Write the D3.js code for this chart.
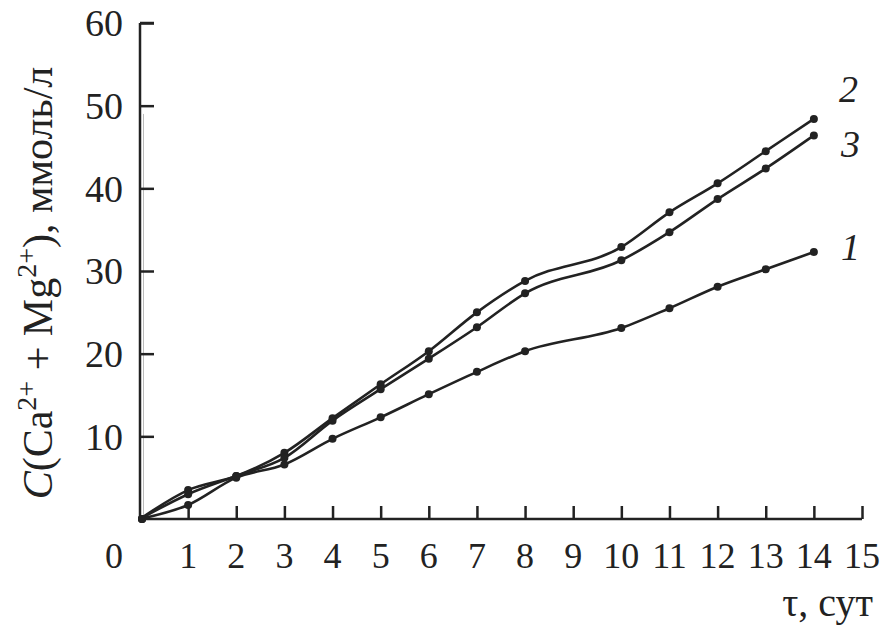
<!DOCTYPE html>
<html><head><meta charset="utf-8">
<script src="https://cdn.jsdelivr.net/npm/d3@7"></script>
<style>body{margin:0;background:#fff}svg{display:block}</style>
</head><body>
<svg id="c" width="881" height="626"></svg>
<script>
const days = [0, 1, 2, 3, 4, 5, 6, 7, 8, 10, 11, 12, 13, 14];
const series1 = [0, 1.7, 5.0, 6.6, 9.7, 12.3, 15.1, 17.8, 20.3, 23.1, 25.5, 28.1, 30.2, 32.3];
const series2 = [0, 3.5, 5.2, 8.0, 12.2, 16.3, 20.3, 25.0, 28.8, 32.9, 37.1, 40.6, 44.5, 48.4];
const series3 = [0, 3.0, 5.2, 7.4, 11.9, 15.7, 19.4, 23.2, 27.3, 31.3, 34.7, 38.7, 42.4, 46.4];
const seriesLabels = ["1", "2", "3"];
const xTicks = [1,2,3,4,5,6,7,8,9,10,11,12,13,14,15];
const yTicks = [10,20,30,40,50,60];

const svg = d3.select("#c");
const x = d3.scaleLinear().domain([0, 15]).range([140, 862]);
const y = d3.scaleLinear().domain([0, 60]).range([519, 23]);
const ink = "#222";
const serif = "'Liberation Serif', 'DejaVu Serif', serif";

// decorative thin line next to y axis
svg.append("line").attr("x1",143.5).attr("x2",143.5).attr("y1",y(49)).attr("y2",y(0))
  .attr("stroke","#bbb").attr("stroke-width",1);

// axes
const yAxis = svg.append("g").attr("transform","translate(140,0)")
  .call(d3.axisRight(y).tickValues(yTicks).tickSize(14).tickFormat(""));
const xAxis = svg.append("g").attr("transform","translate(0,519)")
  .call(d3.axisTop(x).tickValues(xTicks).tickSize(13).tickFormat(""));
[yAxis, xAxis].forEach(g => {
  g.select(".domain").attr("stroke", ink).attr("stroke-width", 2.5);
  g.selectAll(".tick line").attr("stroke", ink).attr("stroke-width", 2.5);
});
yAxis.select(".domain").attr("d", `M0,${y(60)}V${y(0)}`);
yAxis.append("line").attr("x1",0).attr("x2",14).attr("y1",y(60)).attr("y2",y(60))
  .attr("stroke",ink).attr("stroke-width",2.5);
xAxis.select(".domain").attr("d", `M${x(0)},0H${x(15)}`);

// tick labels
svg.append("g").selectAll("text").data(yTicks).join("text")
  .attr("x", 123).attr("y", d => y(d)).attr("dy","0.35em")
  .attr("text-anchor","end").attr("font-family",serif).attr("font-size",38).attr("fill",ink)
  .text(d => d);
svg.append("g").selectAll("text").data(xTicks).join("text")
  .attr("x", d => x(d)).attr("y", 568)
  .attr("text-anchor","middle").attr("font-family",serif).attr("font-size",36).attr("fill",ink)
  .text(d => d);
svg.append("text").attr("x",114).attr("y",568).attr("text-anchor","middle")
  .attr("font-family",serif).attr("font-size",36).attr("fill",ink).text("0");

// axis titles
svg.append("text").attr("x",873).attr("y",616).attr("text-anchor","end")
  .attr("font-family",serif).attr("font-size",40).attr("fill",ink).text("τ, сут");

const yt = svg.append("text").attr("transform","translate(52,283) rotate(-90)")
  .attr("text-anchor","middle").attr("font-family",serif).attr("font-size",42).attr("fill",ink);
yt.append("tspan").attr("font-style","italic").text("C");
yt.append("tspan").text("(Ca");
yt.append("tspan").attr("font-size",28).attr("dy",-16).text("2+");
yt.append("tspan").attr("dy",16).text(" + Mg");
yt.append("tspan").attr("font-size",28).attr("dy",-16).text("2+");
yt.append("tspan").attr("dy",16).text("), ммоль/л");

// series
const all = [series1, series2, series3];
const line = d3.line().x((d,i)=>x(days[i])).y(d=>y(d)).curve(d3.curveMonotoneX);
all.forEach(s => {
  svg.append("path").attr("d", line(s)).attr("fill","none").attr("stroke",ink).attr("stroke-width",2.6);
  svg.append("g").selectAll("circle").data(s).join("circle")
    .attr("cx",(d,i)=>x(days[i])+ (i===0?2:0)).attr("cy",d=>y(d)).attr("r",4).attr("fill",ink);
});

// curve labels
const labelPos = [[841, 260], [839, 102], [841, 157]];
seriesLabels.forEach((t,i) => {
  svg.append("text").attr("x",labelPos[i][0]).attr("y",labelPos[i][1])
    .attr("font-family",serif).attr("font-style","italic").attr("font-size",38).attr("fill",ink).text(t);
});
</script>
</body></html>
